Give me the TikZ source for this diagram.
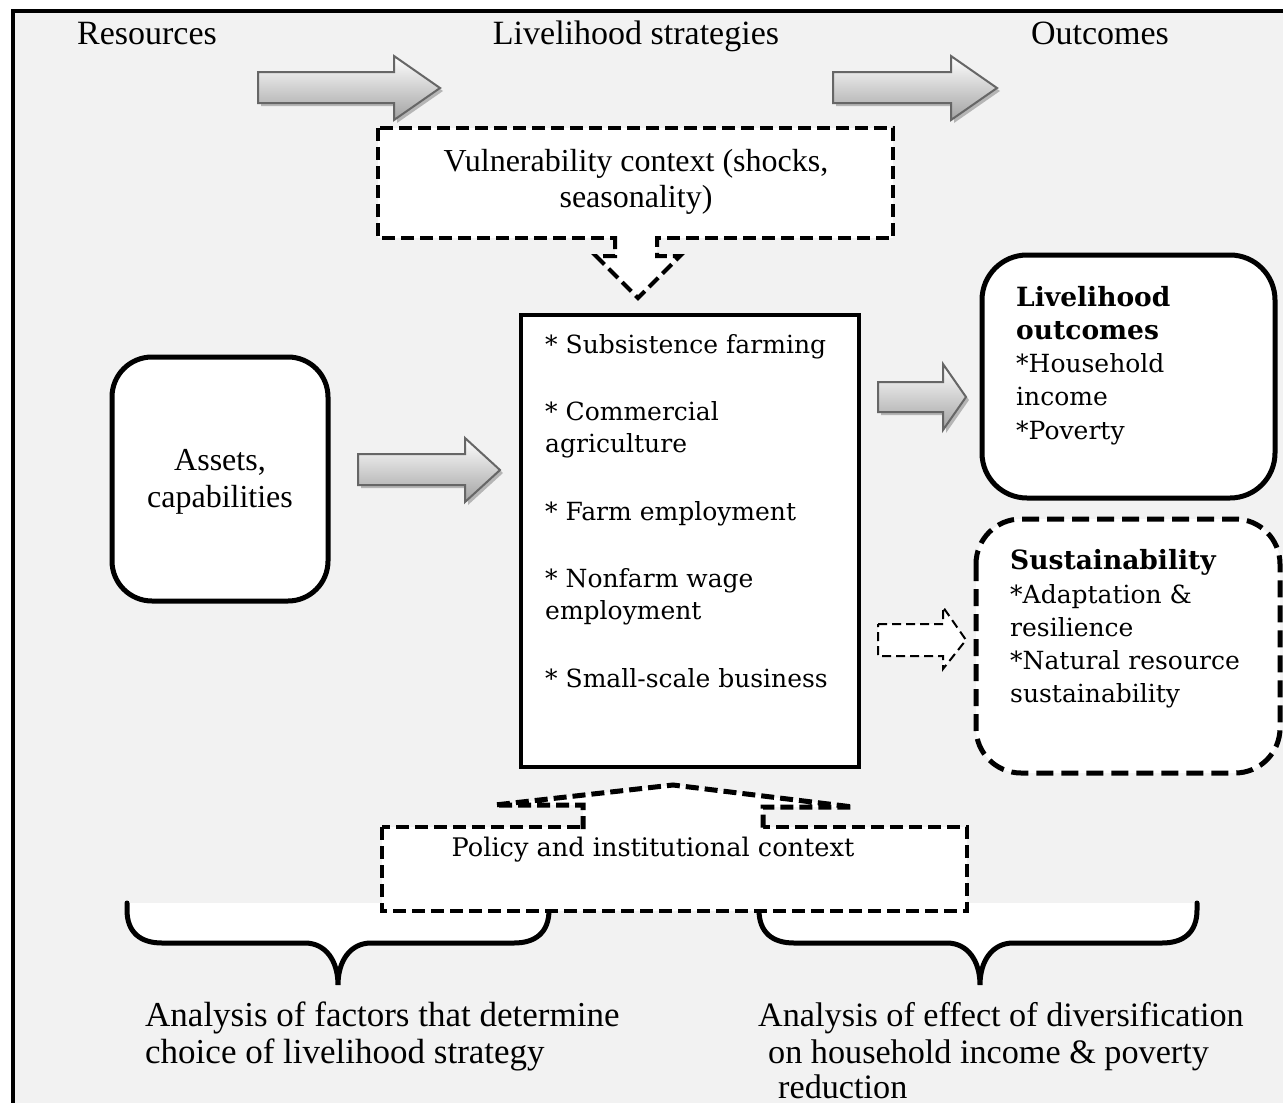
\documentclass[tikz,border=0pt]{standalone}
\usepackage{fontspec}
\setmainfont{Liberation Serif}
\newfontfamily\geo{DejaVu Serif}
\definecolor{bggray}{HTML}{F2F2F2}
\definecolor{arrline}{HTML}{666666}
\definecolor{arrshadow}{HTML}{B5B5B5}
\definecolor{arrbottom}{HTML}{A2A2A2}
\newcommand\blockarr[8]{%
  \fill[arrshadow, shift={(3,3)}] (#1,#4) -- (#2,#4) -- (#2,#6) -- (#3,#8) -- (#2,#7) -- (#2,#5) -- (#1,#5) -- cycle;
  \draw[garrow] (#1,#4) -- (#2,#4) -- (#2,#6) -- (#3,#8) -- (#2,#7) -- (#2,#5) -- (#1,#5) -- cycle;}
\newcommand\bracepath[4]{% #1 left x, #2 cusp x, #3 right x, #4 top y
  (#1,#4) -- (#1,910) .. controls (#1,932) and (#1+13,943) .. (#1+35,943)
  -- (#2-33,943) .. controls (#2-13,943) and (#2,960) .. (#2,985)
  .. controls (#2,960) and (#2+13,943) .. (#2+33,943)
  -- (#3-35,943) .. controls (#3-13,943) and (#3,932) .. (#3,910) -- (#3,#4)}
\begin{document}
\begin{tikzpicture}[x=1pt,y=-1pt,
  tms/.style={font=\fontsize{34}{40}\selectfont, inner sep=0pt},
  tmv/.style={font=\fontsize{32}{38}\selectfont, inner sep=0pt},
  tmb/.style={font=\fontsize{35}{40}\selectfont, inner sep=0pt, anchor=base west},
  tmbr/.style={font=\fontsize{34.2}{40}\selectfont, inner sep=0pt, anchor=base west},
  geotxt/.style={font=\geo\fontsize{25}{30}\selectfont, inner sep=0pt, anchor=base west},
  geobold/.style={font=\geo\bfseries\fontsize{26.5}{30}\selectfont, inner sep=0pt, anchor=base west},
  garrow/.style={draw=arrline, line width=2, top color=white, bottom color=arrbottom, line join=miter},
  vdash/.style={line width=4, dash pattern=on 13pt off 6pt},
  sdash/.style={line width=5, dash pattern=on 17pt off 8pt},
  tdash/.style={line width=2, dash pattern=on 9pt off 5pt},
  solidbox/.style={draw=black, line width=5, fill=white},
  bracestyle/.style={draw=black, line width=5, line cap=round}]
\useasboundingbox (0,0) rectangle (1283,1103);
\clip (0,0) rectangle (1283,1103);
% background and frame
\fill[white] (0,0) rectangle (1283,1103);
\fill[bggray] (12.5,11) rectangle (1290,1110);
\draw[line width=4] (12.5,1110) -- (12.5,11) -- (1290,11);

% top labels
\node[tms, anchor=base] (res) at (147,44) {Resources};
\node[tms, anchor=base] (lstr) at (636,44) {Livelihood strategies};
\node[tms, anchor=base] (outc) at (1100,44) {Outcomes};

% top arrows
\blockarr{258}{394}{440}{72}{103}{56}{120}{88}
\blockarr{833}{951}{997}{72}{103}{56}{120}{88}

% vulnerability box
\draw[vdash, fill=white] (378,128) rectangle (893,238);
\node[tmv, anchor=base] (v1) at (636,171) {Vulnerability context (shocks,};
\node[tmv, anchor=base] (v2) at (636,207) {seasonality)};
% down arrow
\fill[white] (615,233) -- (615,256) -- (596,256) -- (638,298) -- (680,256) -- (657,256) -- (657,233) -- cycle;
\draw[vdash, line join=miter] (615,236) -- (615,256) -- (596,256) -- (638,298) -- (680,256) -- (657,256) -- (657,236);

% center box
\draw[draw=black, line width=4, fill=white] (521,315) rectangle (859,767);
\node[geotxt] (c1) at (545,353) {* Subsistence farming};
\node[geotxt] (c2) at (545,420) {* Commercial};
\node[geotxt] (c3) at (545,452) {agriculture};
\node[geotxt] (c4) at (545,520) {* Farm employment};
\node[geotxt] (c5) at (545,587) {* Nonfarm wage};
\node[geotxt] (c6) at (545,619) {employment};
\node[geotxt] (c7) at (545,687) {* Small-scale business};

% assets box
\draw[solidbox, rounded corners=40] (112,357) rectangle (328,601);
\node[tmv, anchor=base] (a1) at (220,470) {Assets,};
\node[tmv, anchor=base] (a2) at (220,507) {capabilities};
\blockarr{358}{465}{500}{454}{485}{438}{502}{470}

% livelihood outcomes box
\draw[solidbox, rounded corners=45] (982,255) rectangle (1275,498);
\node[geobold] (o1) at (1016,306) {Livelihood};
\node[geobold] (o2) at (1016,339) {outcomes};
\node[geotxt] (o3) at (1016,372) {*Household};
\node[geotxt] (o4) at (1016,405) {income};
\node[geotxt] (o5) at (1016,439) {*Poverty};
\blockarr{878}{943}{966}{382}{412}{364}{430}{397}

% sustainability box
\draw[sdash, fill=white, rounded corners=45] (976,519) rectangle (1280,773);
\node[geobold] (s1) at (1010,569) {Sustainability};
\node[geotxt] (s2) at (1010,603) {*Adaptation \&};
\node[geotxt] (s3) at (1010,636) {resilience};
\node[geotxt] (s4) at (1010,669) {*Natural resource};
\node[geotxt] (s5) at (1010,702) {sustainability};
\draw[tdash, fill=white, line join=miter] (878,624) -- (943,624) -- (943,607) -- (966,640) -- (943,669) -- (943,656) -- (878,656) -- cycle;

% braces
\fill[white] \bracepath{127}{338}{549}{903} -- cycle;
\draw[bracestyle] \bracepath{127}{338}{549}{903};
\fill[white] \bracepath{759}{980}{1197}{903} -- cycle;
\draw[bracestyle] \bracepath{759}{980}{1197}{903};

% policy box and up arrow
\draw[vdash, fill=white] (382,827) rectangle (967,911);
\fill[white] (583,830) -- (583,805) -- (495,805) -- (673,785) -- (853,807) -- (763,807) -- (763,830) -- cycle;
\draw[vdash, line width=5, line join=miter] (583,829) -- (583,805) -- (495,805) -- (673,785) -- (853,807) -- (763,807) -- (763,829);
\node[font=\geo\fontsize{25.6}{30}\selectfont, inner sep=0pt, anchor=base] (pol) at (653,856) {Policy and institutional context};

% bottom texts
\node[tmb] (b1) at (145,1026) {Analysis of factors that determine};
\node[tmb] (b2) at (145,1063) {choice of livelihood strategy};
\node[tmbr] (b3) at (758,1026) {Analysis of effect of diversification};
\node[tmbr] (b4) at (768,1063) {on household income \& poverty};
\node[tmbr] (b5) at (778,1098) {reduction};
\end{tikzpicture}
\end{document}
